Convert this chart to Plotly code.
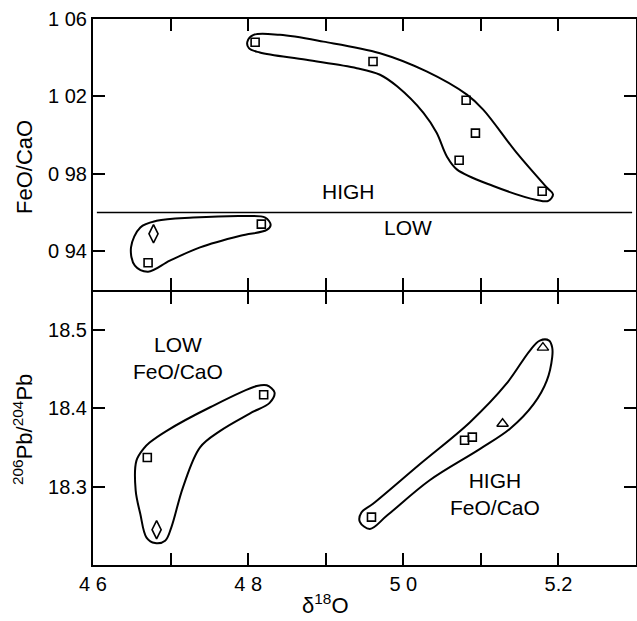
import plotly.graph_objects as go

# ---------------- data ----------------
# top panel: FeO/CaO vs d18O
top_hi_sq_x = [4.809, 4.961, 5.081, 5.093, 5.072, 5.179]
top_hi_sq_y = [1.048, 1.038, 1.018, 1.001, 0.987, 0.971]
top_lo_sq_x = [4.671, 4.817]
top_lo_sq_y = [0.934, 0.954]
top_lo_dia_x = [4.678]
top_lo_dia_y = [0.949]

# bottom panel: 206Pb/204Pb vs d18O
bot_sq_x = [4.820, 4.670, 5.079, 5.089, 4.959]
bot_sq_y = [18.417, 18.337, 18.359, 18.363, 18.261]
bot_dia_x = [4.682]
bot_dia_y = [18.245]
bot_tri_x = [5.128, 5.180]
bot_tri_y = [18.380, 18.477]

# divider FeO/CaO = 0.96
div_x = [4.605, 5.295]
div_y = [0.96, 0.96]

# hand-drawn field outlines (vertices)
top_lo_env_x = [4.729, 4.798, 4.822, 4.829, 4.824, 4.790, 4.738, 4.699, 4.671, 4.654, 4.649, 4.661, 4.682, 4.729]
top_lo_env_y = [0.9574, 0.9582, 0.9574, 0.9536, 0.9510, 0.9480, 0.9420, 0.9351, 0.9294, 0.9325, 0.9420, 0.9523, 0.9557, 0.9574]

top_hi_env_x = [4.897, 4.970, 5.030, 5.082, 5.103, 5.146, 5.185, 5.193, 5.187, 5.172, 5.116, 5.069, 5.056,
                5.043, 5.026, 4.992, 4.970, 4.940, 4.875, 4.815, 4.801, 4.799, 4.807, 4.841, 4.897]
top_hi_env_y = [1.0483, 1.0423, 1.0329, 1.0209, 1.0132, 0.9909, 0.9729, 0.9694, 0.9660, 0.9665, 0.9737, 0.9823, 0.9891,
                1.0012, 1.0115, 1.0252, 1.0312, 1.0346, 1.0389, 1.0427, 1.0449, 1.0483, 1.0518, 1.0518, 1.0483]

bot_lo_env_x = [4.751, 4.811, 4.824, 4.834, 4.828, 4.802, 4.764, 4.738, 4.716, 4.701, 4.693, 4.680, 4.669,
                4.661, 4.655, 4.656, 4.665, 4.673, 4.695, 4.751]
bot_lo_env_y = [18.401, 18.428, 18.429, 18.420, 18.407, 18.393, 18.371, 18.350, 18.299, 18.248, 18.231, 18.228, 18.235,
                18.265, 18.295, 18.333, 18.348, 18.356, 18.371, 18.401]

bot_hi_env_x = [5.022, 5.086, 5.133, 5.163, 5.176, 5.188, 5.192, 5.192, 5.185, 5.168, 5.138, 5.099, 5.034,
                4.979, 4.957, 4.944, 4.946, 4.961, 5.022]
bot_hi_env_y = [18.329, 18.382, 18.431, 18.473, 18.486, 18.486, 18.477, 18.465, 18.435, 18.405, 18.374, 18.348, 18.308,
                18.263, 18.246, 18.255, 18.267, 18.278, 18.329]

x_tickvals = [4.6, 4.8, 5.0, 5.2]
x_ticktext = ["4 6", "4 8", "5 0", "5.2"]
x_minor_step = 0.1
top_tickvals = [0.94, 0.98, 1.02, 1.06]
top_ticktext = ["0 94", "0 98", "1 02", "1 06"]
bot_tickvals = [18.3, 18.4, 18.5]
bot_ticktext = ["18.3", "18.4", "18.5"]

# ---------------- figure ----------------
FONT = "Liberation Sans"
W, H = 637, 621
ML, MR, MT, MB = 93, 1, 19, 56
PW, PH = W - ML - MR, H - MT - MB
fig = go.Figure()

line_style = dict(color="black", width=2, shape="spline", smoothing=1.0)

def env(x, y, xa, ya):
    fig.add_trace(go.Scatter(x=x, y=y, mode="lines", line=line_style, xaxis=xa, yaxis=ya,
                             hoverinfo="skip", showlegend=False))

env(top_lo_env_x, top_lo_env_y, "x2", "y2")
env(top_hi_env_x, top_hi_env_y, "x2", "y2")
env(bot_lo_env_x, bot_lo_env_y, "x", "y")
env(bot_hi_env_x, bot_hi_env_y, "x", "y")

fig.add_trace(go.Scatter(x=div_x, y=div_y, mode="lines", line=dict(color="black", width=1.5),
                         xaxis="x2", yaxis="y2", showlegend=False))

sq = dict(symbol="square-open", size=8, color="black", line=dict(width=1.6, color="black"))
dia = dict(symbol="diamond-tall-open", size=13, color="black", line=dict(width=1.6, color="black"))
tri = dict(symbol="triangle-up-open", size=10, color="black", line=dict(width=1.4, color="black"))

fig.add_trace(go.Scatter(x=top_hi_sq_x, y=top_hi_sq_y, mode="markers", marker=sq, xaxis="x2", yaxis="y2", showlegend=False))
fig.add_trace(go.Scatter(x=top_lo_sq_x, y=top_lo_sq_y, mode="markers", marker=sq, xaxis="x2", yaxis="y2", showlegend=False))
fig.add_trace(go.Scatter(x=top_lo_dia_x, y=top_lo_dia_y, mode="markers", marker=dia, xaxis="x2", yaxis="y2", showlegend=False))
fig.add_trace(go.Scatter(x=bot_sq_x, y=bot_sq_y, mode="markers", marker=sq, xaxis="x", yaxis="y", showlegend=False))
fig.add_trace(go.Scatter(x=bot_dia_x, y=bot_dia_y, mode="markers", marker=dia, xaxis="x", yaxis="y", showlegend=False))
fig.add_trace(go.Scatter(x=bot_tri_x, y=bot_tri_y, mode="markers", marker=tri, xaxis="x", yaxis="y", showlegend=False))

axis_common = dict(showline=True, linecolor="black", linewidth=2, mirror="ticks", ticks="inside",
                   ticklen=12, tickwidth=1.5, tickcolor="black", showgrid=False, zeroline=False,
                   automargin=False, tickfont=dict(family=FONT, size=20, color="black"))
x_minor = dict(ticks="inside", ticklen=12, tickwidth=1.5, tickcolor="black", dtick=x_minor_step,
               tick0=4.6, showgrid=False)

gap = 1.0 / PH  # half of 2px line width so both panel borders coincide
split = 0.502

fig.update_layout(
    width=W, height=H,
    margin=dict(l=ML, r=MR, t=MT, b=MB, autoexpand=False),
    paper_bgcolor="white", plot_bgcolor="white",
    showlegend=False,
    xaxis=dict(domain=[0, 1], range=[4.6, 5.3], tickmode="array", tickvals=x_tickvals, ticktext=x_ticktext,
               minor=x_minor, anchor="y", **axis_common),
    xaxis2=dict(domain=[0, 1], range=[4.6, 5.3], tickmode="array", tickvals=x_tickvals, ticktext=x_ticktext,
                minor=x_minor, showticklabels=False, anchor="y2", matches="x", **axis_common),
    yaxis=dict(domain=[0, split - gap], range=[18.2, 18.548], tickmode="array", tickvals=bot_tickvals,
               ticktext=bot_ticktext, anchor="x", **axis_common),
    yaxis2=dict(domain=[split + gap, 1], range=[0.92, 1.06], tickmode="array", tickvals=top_tickvals,
                ticktext=top_ticktext, anchor="x2", **axis_common),
)

def px_to_paper(px, py):
    return (px - ML) / PW, (H - MB - py) / PH

tf = dict(family=FONT, size=21, color="black")

fig.add_annotation(x=4.929, y=0.971, xref="x2", yref="y2", text="HIGH", showarrow=False, font=tf,
                   xanchor="center", yanchor="middle")
fig.add_annotation(x=5.006, y=0.952, xref="x2", yref="y2", text="LOW", showarrow=False, font=tf,
                   xanchor="center", yanchor="middle")
fig.add_annotation(x=4.709, y=18.464, xref="x", yref="y", text="LOW<br>FeO/CaO", showarrow=False, font=tf,
                   xanchor="center", yanchor="middle")
fig.add_annotation(x=5.118, y=18.290, xref="x", yref="y", text="HIGH<br>FeO/CaO", showarrow=False, font=tf,
                   xanchor="center", yanchor="middle")

tt = dict(family=FONT, size=22, color="black")
ax, ay = px_to_paper(24, 167)
fig.add_annotation(x=ax, y=ay, xref="paper", yref="paper", text="FeO/CaO", textangle=-90,
                   xanchor="center", yanchor="middle", showarrow=False, font=tt)
ax, ay = px_to_paper(23, 430)
fig.add_annotation(x=ax, y=ay, xref="paper", yref="paper", text="<sup>206</sup>Pb/<sup>204</sup>Pb", textangle=-90,
                   xanchor="center", yanchor="middle", showarrow=False, font=tt)
ax, ay = px_to_paper(325, 604)
fig.add_annotation(x=ax, y=ay, xref="paper", yref="paper", text="δ<sup>18</sup>O",
                   xanchor="center", yanchor="middle", showarrow=False, font=tt)

fig.write_html("out.html", config={"displayModeBar": False},
               post_script="document.body.style.margin='0px';document.body.style.overflow='hidden';")
